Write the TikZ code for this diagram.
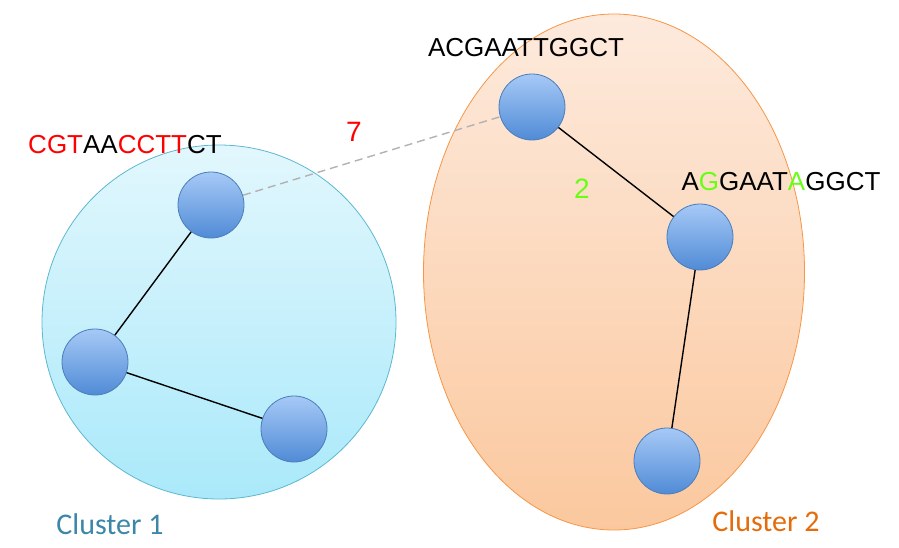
\documentclass[tikz,border=0pt]{standalone}
\usepackage{fontspec}
\setmainfont{Liberation Sans}
\newfontfamily\clusterfont{Carlito}
\usetikzlibrary{shapes.geometric}
\definecolor{seqred}{RGB}{255, 0, 0}
\definecolor{seqgreen}{RGB}{102, 255, 20}
\definecolor{cyanfill}{RGB}{226, 247, 253}
\definecolor{cyanfilldark}{RGB}{170, 233, 250}
\definecolor{cyanline}{RGB}{92, 184, 207}
\definecolor{peachfill}{RGB}{253, 234, 221}
\definecolor{peachfilldark}{RGB}{251, 200, 158}
\definecolor{peachline}{RGB}{247, 150, 70}
\definecolor{ballhi}{RGB}{166, 201, 246}
\definecolor{balllo}{RGB}{80, 139, 214}
\definecolor{ballline}{RGB}{74, 126, 187}
\definecolor{labelone}{RGB}{60, 135, 168}
\definecolor{labeltwo}{RGB}{228, 108, 10}

\begin{document}
\begin{tikzpicture}[x=1pt, y=-1pt,
    seq/.style={font=\fontsize{26}{28}\selectfont},
    dist/.style={font=\fontsize{28}{30}\selectfont},
    ball/.style={circle, draw=ballline, thick, top color=ballhi, bottom color=balllo,
                 minimum size=66pt, inner sep=0pt},
    link/.style={line width=1.4pt, black}]
  \useasboundingbox (0,0) rectangle (899,547);
  % clusters
  \node[circle, draw=cyanline, thick, top color=cyanfill, bottom color=cyanfilldark,
        minimum size=354pt, inner sep=0pt] (c1) at (219,322) {};
  \node[ellipse, draw=peachline, thick, top color=peachfill, bottom color=peachfilldark,
        minimum width=381pt, minimum height=516pt, inner sep=0pt] (c2) at (614,272) {};
  % sequences
  \node[ball] (n1) at (211,205) {};
  \node[ball] (n2) at (95,362)  {};
  \node[ball] (n3) at (294,429) {};
  \node[ball] (m1) at (532,107) {};
  \node[ball] (m2) at (700,237) {};
  \node[ball] (m3) at (667,461) {};
  \draw[link] (n1) -- (n2);
  \draw[link] (n2) -- (n3);
  \draw[link] (m1) -- (m2);
  \draw[link] (m2) -- (m3);
  \draw[line width=1.4pt, gray!60, dash pattern=on 8pt off 5pt] (n1) -- (m1);
  % labels
  \node[seq] (t1) at (125,145) {\textcolor{seqred}{CGT}AA\textcolor{seqred}{CCTT}CT};
  \node[seq] (t2) at (526,48)  {ACGAATTGGCT};
  \node[seq] (t3) at (781,182) {A\textcolor{seqgreen}{G}GAAT\textcolor{seqgreen}{A}GGCT};
  \node[dist, seqred]   (d1) at (354,132) {7};
  \node[dist, seqgreen] (d2) at (582,189) {2};
  \node[font=\clusterfont\fontsize{30}{32}\selectfont, labelone] (l1) at (110,524) {Cluster 1};
  \node[font=\clusterfont\fontsize{30}{32}\selectfont, labeltwo] (l2) at (766,521) {Cluster 2};
\end{tikzpicture}
\end{document}
